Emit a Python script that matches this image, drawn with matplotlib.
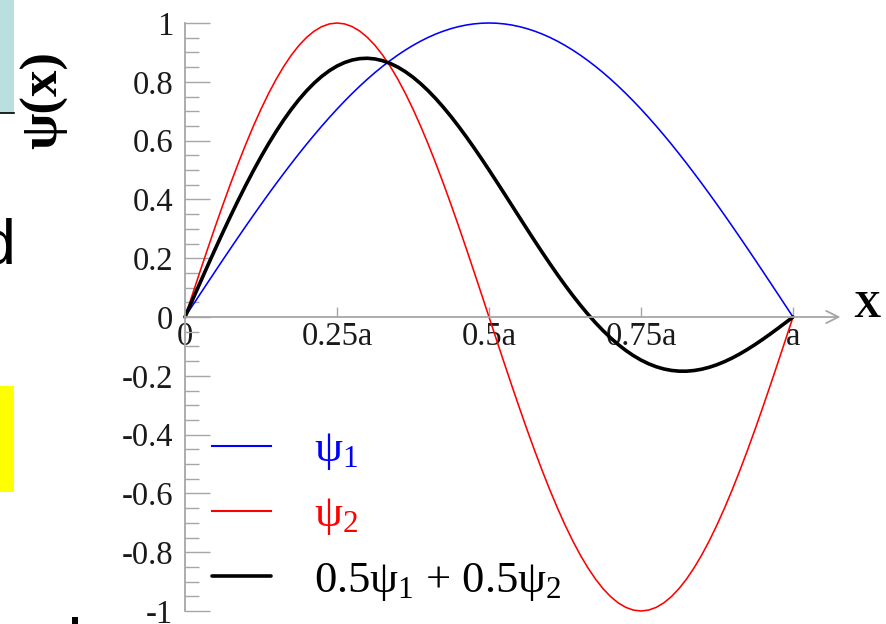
import numpy as np
import matplotlib
matplotlib.use("Agg")
import matplotlib.pyplot as plt
from matplotlib.patches import Rectangle
from matplotlib.lines import Line2D

plt.rcParams['font.family'] = 'Liberation Serif'
plt.rcParams['mathtext.fontset'] = 'custom'
plt.rcParams['mathtext.rm'] = 'Liberation Serif'
plt.rcParams['mathtext.it'] = 'Liberation Serif:italic'

# positions along the box, in units of a
x_pos = [0, .0125, .025, .0375, .05, .0625, .075, .0875, .1, .1125,
         .125, .1375, .15, .1625, .175, .1875, .2, .2125, .225, .2375,
         .25, .2625, .275, .2875, .3, .3125, .325, .3375, .35, .3625,
         .375, .3875, .4, .4125, .425, .4375, .45, .4625, .475, .4875,
         .5, .5125, .525, .5375, .55, .5625, .575, .5875, .6, .6125,
         .625, .6375, .65, .6625, .675, .6875, .7, .7125, .725, .7375,
         .75, .7625, .775, .7875, .8, .8125, .825, .8375, .85, .8625,
         .875, .8875, .9, .9125, .925, .9375, .95, .9625, .975, .9875, 1]

psi1 = [0, .0393, .0785, .1175, .1564, .1951, .2334, .2714, .3090, .3461,
        .3827, .4187, .4540, .4886, .5225, .5556, .5878, .6191, .6494, .6788,
        .7071, .7343, .7604, .7853, .8090, .8315, .8526, .8724, .8910, .9081,
        .9239, .9382, .9511, .9625, .9724, .9808, .9877, .9931, .9969, .9992,
        1, .9992, .9969, .9931, .9877, .9808, .9724, .9625, .9511, .9382,
        .9239, .9081, .8910, .8724, .8526, .8315, .8090, .7853, .7604, .7343,
        .7071, .6788, .6494, .6191, .5878, .5556, .5225, .4886, .4540, .4187,
        .3827, .3461, .3090, .2714, .2334, .1951, .1564, .1175, .0785, .0393, 0]

psi2 = [0, .0785, .1564, .2334, .3090, .3827, .4540, .5225, .5878, .6494,
        .7071, .7604, .8090, .8526, .8910, .9239, .9511, .9724, .9877, .9969,
        1, .9969, .9877, .9724, .9511, .9239, .8910, .8526, .8090, .7604,
        .7071, .6494, .5878, .5225, .4540, .3827, .3090, .2334, .1564, .0785,
        0, -.0785, -.1564, -.2334, -.3090, -.3827, -.4540, -.5225, -.5878, -.6494,
        -.7071, -.7604, -.8090, -.8526, -.8910, -.9239, -.9511, -.9724, -.9877, -.9969,
        -1, -.9969, -.9877, -.9724, -.9511, -.9239, -.8910, -.8526, -.8090, -.7604,
        -.7071, -.6494, -.5878, -.5225, -.4540, -.3827, -.3090, -.2334, -.1564, -.0785, 0]

psi_mix = [0, .0589, .1175, .1755, .2327, .2889, .3437, .3970, .4484, .4978,
           .5449, .5896, .6315, .6706, .7068, .7398, .7695, .7958, .8186, .8379,
           .8536, .8656, .8741, .8789, .8801, .8777, .8718, .8625, .8500, .8343,
           .8155, .7938, .7695, .7425, .7132, .6818, .6484, .6133, .5767, .5389,
           .5, .4604, .4203, .3799, .3394, .2991, .2592, .2200, .1817, .1444,
           .1084, .0739, .0410, .0099, -.0192, -.0462, -.0711, -.0936, -.1137, -.1313,
           -.1465, -.1591, -.1692, -.1767, -.1817, -.1842, -.1843, -.1820, -.1775, -.1709,
           -.1622, -.1517, -.1394, -.1256, -.1103, -.0938, -.0763, -.0580, -.0390, -.0196, 0]

labels = [r'ψ$_1$', r'ψ$_2$', r'0.5ψ$_1$ + 0.5ψ$_2$']
colors = ['#0000ff', '#ff0000', '#000000']

y_major = [1, 0.8, 0.6, 0.4, 0.2, 0, -0.2, -0.4, -0.6, -0.8, -1]
y_major_labels = ['1', '0.8', '0.6', '0.4', '0.2', '0', '-0.2', '-0.4', '-0.6', '-0.8', '-1']
y_minor = [k / 20 for k in range(-20, 21)]
x_major = [0, 0.25, 0.5, 0.75, 1]
x_major_labels = ['0', '0.25a', '0.5a', '0.75a', 'a']

W, H = 886, 624
axis_grey = '#a6a6a6'

fig = plt.figure(figsize=(W / 100, H / 100), dpi=100)
fig.patch.set_facecolor('white')
ax = fig.add_axes([185 / W, 1 - 611 / H, 608 / W, 588 / H])
ax.set_xlim(0, 1)
ax.set_ylim(-1, 1)

ax.plot(x_pos, psi1, color=colors[0], lw=1.15, label=labels[0], clip_on=False)
ax.plot(x_pos, psi2, color=colors[1], lw=1.15, label=labels[1], clip_on=False)
ax.plot(x_pos, psi_mix, color=colors[2], lw=2.6, label=labels[2], clip_on=False,
        solid_capstyle='round')

for s in ['top', 'right']:
    ax.spines[s].set_visible(False)
ax.spines['left'].set_color(axis_grey)
ax.spines['left'].set_linewidth(1.3)
ax.spines['bottom'].set_position(('data', 0))
ax.spines['bottom'].set_visible(False)

ax.set_yticks(y_major)
ax.set_yticklabels(y_major_labels)
ax.set_yticks(y_minor, minor=True)
ax.tick_params(axis='y', which='major', direction='in', length=18, width=1.0,
               color=axis_grey, labelsize=23.5, pad=8.5, labelcolor='#1a1a1a')
ax.tick_params(axis='y', which='minor', direction='in', length=10, width=1.0,
               color=axis_grey)

ax.set_xticks(x_major)
ax.set_xticklabels(x_major_labels)
ax.tick_params(axis='x', which='major', direction='in', length=7, width=1.0,
               color=axis_grey, labelsize=23.5, pad=3, labelcolor='#1a1a1a')

# x axis with open arrow head
ax.annotate('', xy=(1.078, 0), xytext=(0, 0), annotation_clip=False,
            arrowprops=dict(arrowstyle='->', color=axis_grey, lw=1.3,
                            mutation_scale=22, shrinkA=0, shrinkB=0))

fig.text(853 / W, 1 - 317 / H, 'X', fontsize=27, fontweight='bold',
         ha='left', va='baseline')
fig.text(44 / W, 1 - 100 / H, 'ψ(x)', fontsize=38, fontweight='bold',
         rotation=90, ha='center', va='center')

leg = ax.legend(loc='upper left', bbox_to_anchor=(212 / W, 1 - 430 / H),
                bbox_transform=fig.transFigure, frameon=False, fontsize=32,
                handlelength=1.32, handletextpad=0.98, labelspacing=0.52,
                borderpad=0, borderaxespad=0)
for txt, c in zip(leg.get_texts(), colors):
    txt.set_color(c)
for line in leg.get_lines()[:2]:
    line.set_linewidth(1.5)

# bits of the surrounding slide
fig.add_artist(Rectangle((0, 1 - 113 / H), 14 / W, 113 / H, transform=fig.transFigure,
                         facecolor='#b9dfe1', edgecolor='none'))
fig.add_artist(Line2D([0, 14 / W], [1 - 113 / H, 1 - 113 / H], transform=fig.transFigure,
                      color='black', lw=1.2))
fig.add_artist(Rectangle((0, 1 - 492 / H), 14 / W, 106 / H, transform=fig.transFigure,
                         facecolor='#ffff00', edgecolor='none'))
fig.text(15 / W, 1 - 263 / H, 'd', fontsize=45, family='Liberation Sans',
         ha='right', va='baseline')
fig.add_artist(Rectangle((72 / W, 0), 6 / W, 7 / H, transform=fig.transFigure,
                         facecolor='black', edgecolor='none'))

fig.savefig('out.png', dpi=100)
